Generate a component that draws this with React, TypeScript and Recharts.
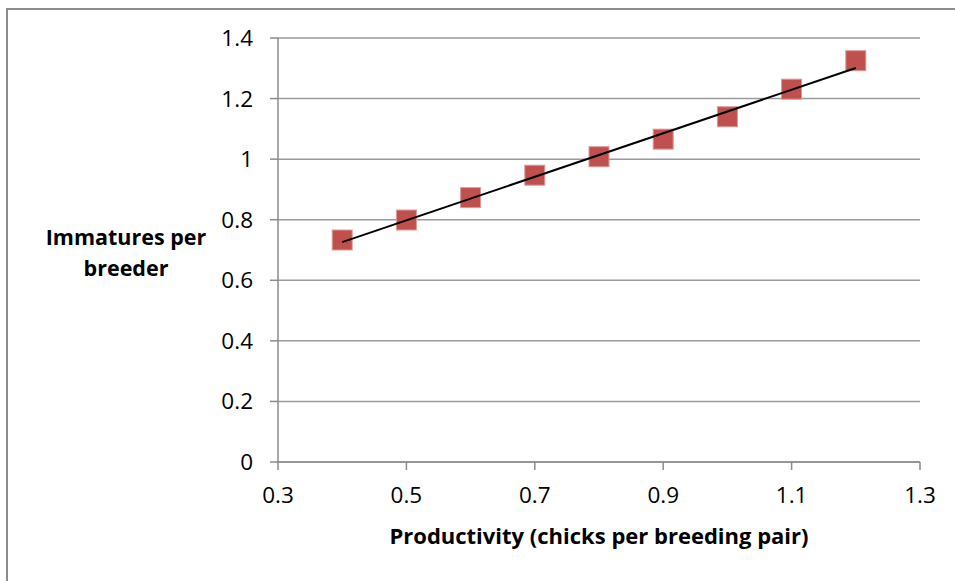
import {
  ScatterChart,
  Scatter,
  XAxis,
  YAxis,
  CartesianGrid,
  Label,
} from 'recharts'

// productivity (chicks per breeding pair)
const productivity = [0.4, 0.5, 0.6, 0.7, 0.8, 0.9, 1.0, 1.1, 1.2]
// immatures per breeder
const immatures = [0.733, 0.799, 0.873, 0.947, 1.008, 1.066, 1.14, 1.231, 1.325]

// linear trend line end points
const trendX = [0.4, 1.2]
const trendY = [0.726, 1.301]

const xTicks = [0.3, 0.5, 0.7, 0.9, 1.1, 1.3]
const yTicks = [0, 0.2, 0.4, 0.6, 0.8, 1, 1.2, 1.4]

const points = productivity.map((x, i) => ({ x, y: immatures[i] }))
const trend = trendX.map((x, i) => ({ x, y: trendY[i] }))

const font = '"Open Sans", Lato, sans-serif'
const axisGray = '#8c8c8c'

function SquareMarker(props: any) {
  const { cx, cy } = props
  if (cx == null || cy == null) return <g />
  const s = 20
  return (
    <rect
      x={cx - s / 2}
      y={cy - s / 2}
      width={s}
      height={s}
      fill="#C0504D"
      stroke="#dc9a98"
      strokeWidth={1}
    />
  )
}

function YTitle() {
  return (
    <text
      textAnchor="middle"
      fontFamily={font}
      fontWeight="bold"
      fontSize={21.5}
      fill="#000"
    >
      <tspan x={126} y={245}>
        Immatures per
      </tspan>
      <tspan x={126} y={276}>
        breeder
      </tspan>
    </text>
  )
}

export default function App() {
  return (
    <div
      style={{
        position: 'fixed',
        left: 0,
        top: 0,
        width: 955,
        height: 581,
        overflow: 'hidden',
        background: '#fff',
      }}
    >
      <div
        style={{
          position: 'absolute',
          left: 6,
          top: 8,
          width: 1000,
          height: 700,
          borderLeft: `2px solid ${axisGray}`,
          borderTop: `2px solid ${axisGray}`,
        }}
      />
      <div style={{ position: 'absolute', left: 0, top: 0 }}>
        <ScatterChart
          width={955}
          height={581}
          margin={{ top: 38, right: 35, bottom: 79, left: 218 }}
        >
          <CartesianGrid
            vertical={false}
            stroke="#9a9a9a"
            strokeWidth={1.5}
          />
          <XAxis
            type="number"
            dataKey="x"
            domain={[0.3, 1.3]}
            ticks={xTicks}
            height={40}
            tickSize={8}
            tickMargin={17}
            stroke={axisGray}
            strokeWidth={1.5}
            tick={{ fill: '#000', fontSize: 22.5, fontFamily: font }}
            allowDataOverflow
          >
            <Label
              value="Productivity (chicks per breeding pair)"
              position="bottom"
              offset={26}
              style={{
                fontFamily: font,
                fontWeight: 'bold',
                fontSize: 22,
                fill: '#000',
              }}
            />
          </XAxis>
          <YAxis
            type="number"
            dataKey="y"
            domain={[0, 1.4]}
            ticks={yTicks}
            width={60}
            tickSize={8}
            tickMargin={17}
            stroke={axisGray}
            strokeWidth={1.5}
            tick={{ fill: '#000', fontSize: 22.5, fontFamily: font }}
            allowDataOverflow
          >
            <Label content={<YTitle />} />
          </YAxis>
          <Scatter
            data={points}
            shape={<SquareMarker />}
            isAnimationActive={false}
          />
          <Scatter
            data={trend}
            line={{ stroke: '#000', strokeWidth: 2 }}
            shape={() => <g />}
            isAnimationActive={false}
          />
        </ScatterChart>
      </div>
    </div>
  )
}
